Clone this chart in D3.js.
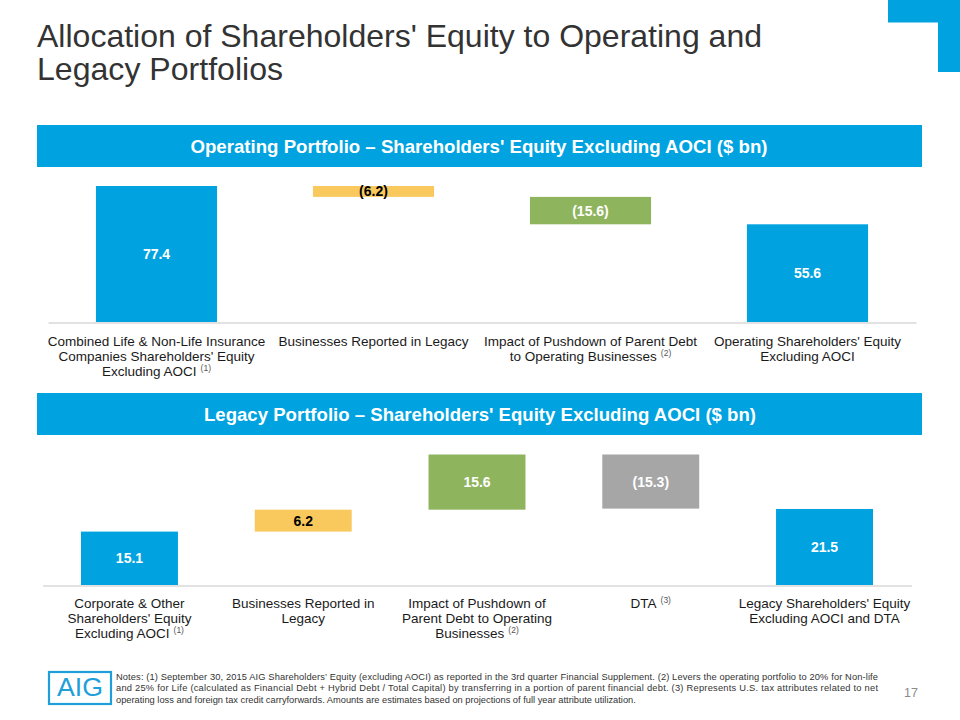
<!DOCTYPE html>
<html>
<head>
<meta charset="utf-8">
<script src="https://cdn.jsdelivr.net/npm/d3@7"></script>
<style>
  html, body { margin: 0; padding: 0; background: #fff; }
  svg { display: block; font-family: "Liberation Sans", Arial, sans-serif; }
</style>
</head>
<body>
<svg id="chart" width="960" height="720"></svg>
<script>
// ---------- DATA ----------
const titleLines = ["Allocation of Shareholders' Equity to Operating and", "Legacy Portfolios"];

const opHeader = "Operating Portfolio \u2013 Shareholders' Equity Excluding AOCI ($ bn)";
const opLabels = [
  ["Combined Life & Non-Life Insurance", "Companies Shareholders' Equity", "Excluding AOCI"],
  ["Businesses Reported in Legacy"],
  ["Impact of Pushdown of Parent Debt", "to Operating Businesses"],
  ["Operating Shareholders' Equity", "Excluding AOCI"]
];
const opNotes = ["(1)", "", "(2)", ""];
const opValues = [77.4, -6.2, -15.6, 55.6];
const opKinds = ["total", "delta", "delta", "total"];
const opColors = ["#00A3E0", "#F9C95D", "#8FB45E", "#00A3E0"];
const opTextColors = ["#ffffff", "#000000", "#ffffff", "#ffffff"];

const legHeader = "Legacy Portfolio \u2013 Shareholders' Equity Excluding AOCI ($ bn)";
const legLabels = [
  ["Corporate & Other", "Shareholders' Equity", "Excluding AOCI"],
  ["Businesses Reported in", "Legacy"],
  ["Impact of Pushdown of", "Parent Debt to Operating", "Businesses"],
  ["DTA"],
  ["Legacy Shareholders' Equity", "Excluding AOCI and DTA"]
];
const legNotes = ["(1)", "", "(2)", "(3)", ""];
const legValues = [15.1, 6.2, 15.6, -15.3, 21.5];
const legKinds = ["total", "delta", "delta", "delta", "total"];
const legColors = ["#00A3E0", "#F9C95D", "#8FB45E", "#A6A6A6", "#00A3E0"];
const legTextColors = ["#ffffff", "#000000", "#ffffff", "#ffffff", "#ffffff"];

const notesLines = [
  "Notes: (1) September 30, 2015 AIG Shareholders\u2019 Equity (excluding AOCI) as reported in the 3rd quarter Financial Supplement. (2) Levers the operating portfolio to 20% for Non-life",
  "and 25% for Life (calculated as Financial Debt + Hybrid Debt / Total Capital) by transferring in a portion of parent financial debt. (3) Represents U.S. tax attributes related to net",
  "operating loss and foreign tax credit carryforwards. Amounts are estimates based on projections of full year attribute utilization."
];
const pageNumber = "17";

// ---------- HELPERS ----------
const svg = d3.select("#chart");
const BLUE = "#00A3E0";

function fmt(v) {
  return v < 0 ? "(" + Math.abs(v).toFixed(1) + ")" : v.toFixed(1);
}

function waterfall(values, kinds) {
  let run = 0;
  return values.map((v, i) => {
    let y0, y1;
    if (kinds[i] === "total") { y0 = 0; y1 = v; run = v; }
    else { y0 = run; y1 = run + v; run = y1; }
    return { i, v, lo: Math.min(y0, y1), hi: Math.max(y0, y1) };
  });
}

function drawPanel(cfg) {
  const g = svg.append("g");
  // header bar
  g.append("rect").attr("x", 37).attr("y", cfg.headerY).attr("width", 885).attr("height", 42).attr("fill", BLUE);
  g.append("text").attr("x", cfg.headerMid).attr("y", cfg.headerY + 28)
    .attr("text-anchor", "middle").attr("fill", "#fff").attr("font-weight", "bold")
    .attr("font-size", 19).attr("textLength", cfg.headerW).attr("lengthAdjust", "spacingAndGlyphs")
    .text(cfg.header);

  const data = waterfall(cfg.values, cfg.kinds);
  const x = d3.scaleBand().domain(d3.range(cfg.values.length))
    .range(cfg.xRange).paddingInner(cfg.pad).paddingOuter(cfg.pad / 2);
  const maxV = d3.max(data, d => d.hi);
  const y = d3.scaleLinear().domain([0, maxV]).range([cfg.baseY, cfg.topY]);

  // axis line
  const axis = d3.axisBottom(x).tickSize(0).tickSizeOuter(0).tickFormat("");
  const ax = g.append("g").attr("transform", `translate(0,${cfg.baseY + 0.5})`).call(axis);
  ax.select(".domain").attr("stroke", "#D9D9D9").attr("stroke-width", 1.5);

  // bars
  g.selectAll("rect.bar").data(data).join("rect").attr("class", "bar")
    .attr("x", d => x(d.i)).attr("width", x.bandwidth())
    .attr("y", d => y(d.hi)).attr("height", d => y(d.lo) - y(d.hi))
    .attr("fill", d => cfg.colors[d.i]);

  // value labels
  g.selectAll("text.val").data(data).join("text").attr("class", "val")
    .attr("x", d => x(d.i) + x.bandwidth() / 2)
    .attr("y", d => (y(d.lo) + y(d.hi)) / 2)
    .attr("dy", "0.36em").attr("text-anchor", "middle")
    .attr("font-weight", "bold").attr("font-size", 14)
    .attr("fill", d => cfg.textColors[d.i])
    .text(d => fmt(d.v));

  // category labels
  cfg.labels.forEach((lines, i) => {
    const cx = x(i) + x.bandwidth() / 2;
    lines.forEach((ln, j) => {
      const t = g.append("text").attr("x", cx).attr("y", cfg.labelY + j * 15)
        .attr("text-anchor", "middle").attr("font-size", 13.5).attr("fill", "#1a1a1a");
      t.append("tspan").text(ln);
      if (j === lines.length - 1 && cfg.notes[i]) {
        t.append("tspan").attr("dx", 4).attr("dy", -5).attr("font-size", 8.5)
          .attr("fill", "#555").text(cfg.notes[i]);
      }
    });
  });
}

// ---------- TITLE & DECORATION ----------
svg.append("path")
  .attr("d", "M888,0 H960 V72 H938 V22.5 H888 Z")
  .attr("fill", BLUE);

svg.append("text").attr("x", 37).attr("y", 47).attr("font-size", 32).attr("fill", "#333")
  .attr("textLength", 725).attr("lengthAdjust", "spacingAndGlyphs").text(titleLines[0]);
svg.append("text").attr("x", 37).attr("y", 80).attr("font-size", 32).attr("fill", "#333")
  .attr("textLength", 246).attr("lengthAdjust", "spacingAndGlyphs").text(titleLines[1]);

// ---------- PANELS ----------
drawPanel({
  header: opHeader, headerY: 125, headerMid: 479, headerW: 577,
  values: opValues, kinds: opKinds, colors: opColors, textColors: opTextColors,
  labels: opLabels, notes: opNotes,
  xRange: [48, 916], pad: 0.442, baseY: 322, topY: 186, labelY: 346
});

drawPanel({
  header: legHeader, headerY: 393, headerMid: 480, headerW: 552,
  values: legValues, kinds: legKinds, colors: legColors, textColors: legTextColors,
  labels: legLabels, notes: legNotes,
  xRange: [42.6, 911.4], pad: 0.442, baseY: 585, topY: 454.5, labelY: 608
});

// ---------- FOOTER ----------
svg.append("rect").attr("x", 49).attr("y", 672).attr("width", 62).attr("height", 32)
  .attr("fill", "none").attr("stroke", "#1E9FD9").attr("stroke-width", 2.2);
svg.append("text").attr("x", 80).attr("y", 696).attr("text-anchor", "middle")
  .attr("font-size", 26).attr("fill", "#1E9FD9").attr("textLength", 46)
  .attr("lengthAdjust", "spacingAndGlyphs").text("AIG");

notesLines.forEach((ln, i) => {
  const t = svg.append("text").attr("x", 116).attr("y", 680 + i * 11.3)
    .attr("font-size", 9.3).attr("fill", "#333").text(ln);
  if (i < notesLines.length - 1) t.attr("textLength", 762).attr("lengthAdjust", "spacing");
});

svg.append("text").attr("x", 904).attr("y", 697).attr("font-size", 12.5)
  .attr("fill", "#8c8c8c").text(pageNumber);
</script>
</body>
</html>
